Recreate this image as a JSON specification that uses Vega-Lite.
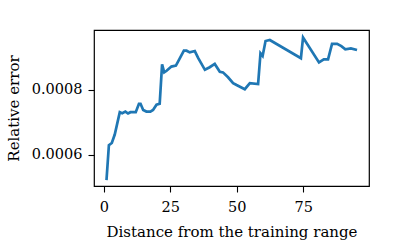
{
  "$schema": "https://vega.github.io/schema/vega-lite/v6.json",
  "autosize": {"type": "none"},
  "width": 275,
  "height": 156,
  "padding": {"left": 94, "top": 30, "right": 30, "bottom": 61},
  "background": "white",
  "config": {
    "view": {"stroke": "black", "strokeWidth": 1.2},
    "font": "DejaVu Serif",
    "axis": {
      "grid": false,
      "domain": false,
      "tickColor": "black",
      "tickWidth": 1.1,
      "tickSize": 6,
      "labelFont": "DejaVu Serif",
      "labelFontSize": 14.5,
      "labelColor": "black",
      "titleFont": "DejaVu Serif",
      "titleFontSize": 15,
      "titleFontWeight": "normal",
      "titleColor": "black"
    }
  },
  "data": {
    "values": [
      {"d": 1, "e": 0.000521},
      {"d": 1.9, "e": 0.000629},
      {"d": 3, "e": 0.000636},
      {"d": 4.1, "e": 0.000662},
      {"d": 6, "e": 0.000731},
      {"d": 6.9, "e": 0.000728},
      {"d": 8.1, "e": 0.000733},
      {"d": 9.1, "e": 0.000727},
      {"d": 10, "e": 0.000731},
      {"d": 12, "e": 0.000731},
      {"d": 13.2, "e": 0.000757},
      {"d": 13.8, "e": 0.000757},
      {"d": 14.8, "e": 0.000738},
      {"d": 16, "e": 0.000733},
      {"d": 17.5, "e": 0.000733},
      {"d": 18.5, "e": 0.000738},
      {"d": 19.8, "e": 0.000754},
      {"d": 21, "e": 0.000757},
      {"d": 21.9, "e": 0.000879},
      {"d": 22.7, "e": 0.000854},
      {"d": 23.6, "e": 0.000859},
      {"d": 25.4, "e": 0.000872},
      {"d": 27.1, "e": 0.000875},
      {"d": 28.6, "e": 0.000898},
      {"d": 30.1, "e": 0.000921},
      {"d": 31.1, "e": 0.000921},
      {"d": 32.3, "e": 0.000916},
      {"d": 34.2, "e": 0.00092},
      {"d": 35.5, "e": 0.000898},
      {"d": 38, "e": 0.000862},
      {"d": 39.8, "e": 0.00087},
      {"d": 41.7, "e": 0.00088},
      {"d": 43.6, "e": 0.000856},
      {"d": 44.8, "e": 0.000854},
      {"d": 46.7, "e": 0.000839},
      {"d": 48.6, "e": 0.000821},
      {"d": 49.9, "e": 0.000815},
      {"d": 53, "e": 0.000802},
      {"d": 54.9, "e": 0.000821},
      {"d": 58, "e": 0.000818},
      {"d": 58.9, "e": 0.000913},
      {"d": 59.7, "e": 0.000905},
      {"d": 60.8, "e": 0.000951},
      {"d": 62.4, "e": 0.000954},
      {"d": 74.1, "e": 0.000898},
      {"d": 74.9, "e": 0.000962},
      {"d": 80.9, "e": 0.000885},
      {"d": 82.7, "e": 0.000894},
      {"d": 84.3, "e": 0.000894},
      {"d": 85.8, "e": 0.000942},
      {"d": 87.7, "e": 0.000942},
      {"d": 89.3, "e": 0.000935},
      {"d": 90.8, "e": 0.000925},
      {"d": 92.9, "e": 0.000928},
      {"d": 95.2, "e": 0.000923}
    ]
  },
  "mark": {"type": "line", "color": "#1f77b4", "strokeWidth": 2.7, "clip": true},
  "encoding": {
    "x": {
      "field": "d",
      "type": "quantitative",
      "scale": {"domain": [-3.7, 99.7], "nice": false, "zero": false},
      "axis": {"values": [0, 25, 50, 75], "title": "Distance from the training range", "labelPadding": 8, "titlePadding": 11}
    },
    "y": {
      "field": "e",
      "type": "quantitative",
      "scale": {"domain": [0.000503, 0.000985], "nice": false, "zero": false},
      "axis": {"values": [0.0006, 0.0008], "format": ".4f", "title": "Relative error", "labelPadding": 6, "titlePadding": 10}
    }
  }
}
